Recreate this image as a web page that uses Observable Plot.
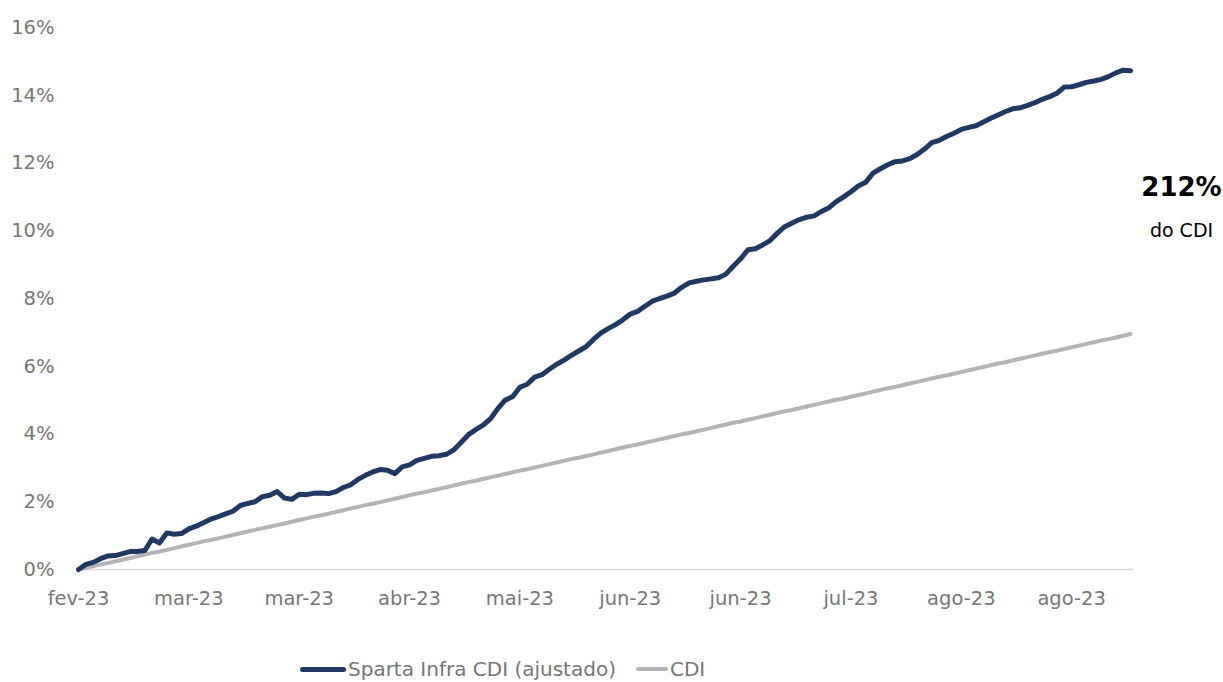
<!DOCTYPE html>
<html>
<head>
<meta charset="utf-8">
<script src="https://cdn.jsdelivr.net/npm/d3@7"></script>
<script src="https://cdn.jsdelivr.net/npm/@observablehq/plot@0.6"></script>
<style>
  html, body { margin: 0; padding: 0; background: #fff; }
  body { width: 1223px; height: 682px; overflow: hidden; font-family: "DejaVu Sans", sans-serif; }
  #chart svg { display: block; }
  #legend { position: relative; height: 52px; font-size: 20px; color: #767676; }
  .item { position: absolute; top: 27px; display: flex; align-items: center; white-space: nowrap; }
  .sw { display: inline-block; height: 5px; border-radius: 3px; margin-right: 2px; }
</style>
</head>
<body>
<div id="chart"></div>
<div id="legend">
  <div class="item" style="left:300px"><span class="sw" style="width:46px;background:#1f3864"></span>Sparta Infra CDI (ajustado)</div>
  <div class="item" style="left:636px"><span class="sw" style="width:32px;background:#b4b4b8;height:4px"></span>CDI</div>
</div>
<script>
// Cumulative return, % (Sparta Infra CDI ajustado), one value per trading day
const sparta = [
  0.00,0.15,0.21,0.32,0.40,0.41,0.47,0.53,0.53,0.56,
  0.90,0.78,1.08,1.04,1.06,1.20,1.28,1.38,1.49,1.56,
  1.64,1.72,1.89,1.95,2.00,2.15,2.19,2.30,2.11,2.07,
  2.22,2.21,2.25,2.26,2.24,2.30,2.42,2.50,2.66,2.78,
  2.88,2.95,2.93,2.83,3.03,3.09,3.22,3.28,3.34,3.36,
  3.40,3.53,3.75,3.98,4.13,4.26,4.45,4.75,5.00,5.10,
  5.38,5.47,5.68,5.75,5.91,6.06,6.18,6.32,6.45,6.58,
  6.79,6.98,7.11,7.23,7.37,7.54,7.62,7.77,7.92,8.00,
  8.07,8.16,8.33,8.46,8.51,8.55,8.58,8.61,8.72,8.95,
  9.17,9.44,9.47,9.58,9.71,9.93,10.12,10.23,10.33,10.40,
  10.44,10.57,10.68,10.86,11.00,11.15,11.32,11.43,11.70,11.83,
  11.95,12.04,12.06,12.13,12.25,12.41,12.60,12.67,12.78,12.88,
  12.99,13.05,13.10,13.21,13.32,13.42,13.52,13.60,13.63,13.70,
  13.78,13.88,13.96,14.06,14.24,14.25,14.31,14.38,14.42,14.47,
  14.55,14.66,14.74,14.72
];
// Cumulative CDI, %
const cdi = [
  0.00,0.05,0.10,0.15,0.19,0.24,0.29,0.34,0.39,0.44,
  0.49,0.53,0.58,0.63,0.68,0.73,0.78,0.83,0.87,0.92,
  0.97,1.02,1.07,1.12,1.17,1.22,1.26,1.31,1.36,1.41,
  1.46,1.51,1.56,1.60,1.65,1.70,1.75,1.80,1.85,1.90,
  1.94,1.99,2.04,2.09,2.14,2.19,2.24,2.28,2.33,2.38,
  2.43,2.48,2.53,2.58,2.62,2.67,2.72,2.77,2.82,2.87,
  2.92,2.96,3.01,3.06,3.11,3.16,3.21,3.26,3.30,3.35,
  3.40,3.45,3.50,3.55,3.60,3.65,3.69,3.74,3.79,3.84,
  3.89,3.94,3.99,4.03,4.08,4.13,4.18,4.23,4.28,4.33,
  4.37,4.42,4.47,4.52,4.57,4.62,4.67,4.71,4.76,4.81,
  4.86,4.91,4.96,5.01,5.05,5.10,5.15,5.20,5.25,5.30,
  5.35,5.39,5.44,5.49,5.54,5.59,5.64,5.69,5.73,5.78,
  5.83,5.88,5.93,5.98,6.03,6.08,6.12,6.17,6.22,6.27,
  6.32,6.37,6.42,6.46,6.51,6.56,6.61,6.66,6.71,6.76,
  6.80,6.85,6.90,6.95
];
const xLabels = ["fev-23","mar-23","mar-23","abr-23","mai-23","jun-23","jun-23","jul-23","ago-23","ago-23"];
const labelEvery = 15;
const yTicks = [0,2,4,6,8,10,12,14,16];
const annotation = ["212%", "do CDI"];

const spartaData = sparta.map((v, i) => ({i, v}));
const cdiData = cdi.map((v, i) => ({i, v}));
const xTicks = xLabels.map((_, k) => k * labelEvery);

const chart = Plot.plot({
  width: 1223,
  height: 630,
  marginTop: 27,
  marginBottom: 61,
  marginLeft: 78,
  marginRight: 93,
  style: {fontFamily: "DejaVu Sans, sans-serif", fontSize: "19.5px", color: "#777777", background: "#fff"},
  x: {domain: [0, sparta.length - 1], ticks: xTicks, tickFormat: i => xLabels[i / labelEvery], tickSize: 0, tickPadding: 22, label: null},
  y: {domain: [0, 16], ticks: yTicks, tickFormat: d => d + "%", tickSize: 0, tickPadding: 24, label: null},
  marks: [
    Plot.ruleY([0], {stroke: "#d9d9d9", strokeWidth: 1.5, x1: 0, x2: sparta.length - 0.6}),
    Plot.line(cdiData, {x: "i", y: "v", stroke: "#b4b4b8", strokeWidth: 4, strokeLinecap: "round"}),
    Plot.line(spartaData, {x: "i", y: "v", stroke: "#1f3864", strokeWidth: 5, strokeLinejoin: "round", strokeLinecap: "round"}),
    Plot.text([annotation[0]], {frameAnchor: "top-right", dx: 51, dy: 150, text: d => d, textAnchor: "middle", fontSize: 26, fontWeight: "bold", fill: "#000"}),
    Plot.text([annotation[1]], {frameAnchor: "top-right", dx: 51, dy: 196, text: d => d, textAnchor: "middle", fontSize: 19, fill: "#000"})
  ]
});
document.getElementById("chart").appendChild(chart);
</script>
</body>
</html>
